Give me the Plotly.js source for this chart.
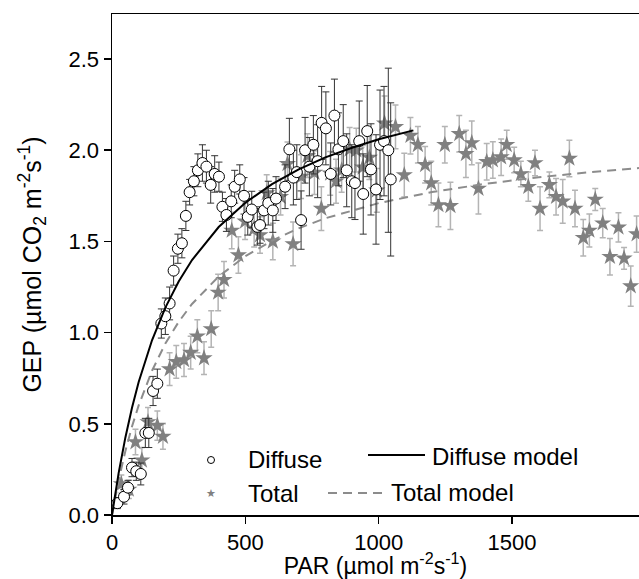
<!DOCTYPE html>
<html>
<head>
<meta charset="utf-8">
<script src="https://cdn.plot.ly/plotly-3.0.1.min.js"></script>
<style>html,body{margin:0;padding:0;background:#fff;}#chart{width:639px;height:579px;}</style>
</head>
<body>
<div id="chart"></div>
<script>
// Diffuse observations (PAR, GEP, error)
const diffuseX = [20,45,60,75,91,108,125,138,154,170,185,200,216,231,247,262,277,291,307,322,339,354,370,385,401,414,429,447,460,479,495,509,524,545,555,570,586,603,615,649,665,680,693,709,724,740,755,771,786,802,820,834,849,867,880,899,911,927,942,957,971,990,1005,1020,1036,1045];
const diffuseY = [0.065,0.10,0.15,0.26,0.24,0.225,0.45,0.45,0.68,0.72,1.05,1.09,1.16,1.34,1.46,1.49,1.64,1.77,1.83,1.89,1.93,1.91,1.81,1.87,1.855,1.69,1.645,1.72,1.80,1.84,1.75,1.635,1.675,1.58,1.59,1.67,1.71,1.67,1.735,1.80,2.005,1.85,1.88,1.617,2.00,1.91,2.03,1.94,2.15,2.12,1.87,2.19,2.005,2.05,1.89,1.83,1.82,2.05,1.76,2.105,1.895,1.785,2.03,2.05,2.0,1.84];
const diffuseErr = [0.03,0.04,0.04,0.05,0.05,0.06,0.08,0.08,0.08,0.08,0.08,0.1,0.09,0.08,0.08,0.08,0.08,0.07,0.08,0.09,0.1,0.09,0.1,0.1,0.08,0.08,0.09,0.09,0.09,0.08,0.1,0.1,0.1,0.1,0.1,0.1,0.12,0.12,0.12,0.12,0.17,0.15,0.15,0.16,0.18,0.16,0.16,0.2,0.2,0.2,0.17,0.2,0.2,0.2,0.2,0.2,0.2,0.22,0.22,0.25,0.25,0.3,0.3,0.3,0.45,0.42];

// Total observations (PAR, GEP, error)
const totalX = [35,63,88,112,135,170,191,216,241,270,295,320,345,372,398,420,449,474,499,533,555,580,603,632,658,679,709,733,759,785,818,840,861,891,916,940,965,993,1022,1063,1096,1119,1147,1174,1197,1224,1248,1269,1302,1327,1349,1374,1405,1428,1459,1480,1508,1533,1561,1586,1605,1640,1665,1690,1715,1736,1767,1790,1812,1840,1867,1899,1920,1945,1967];
const totalY = [0.17,0.14,0.40,0.30,0.51,0.49,0.43,0.80,0.84,0.85,0.89,0.98,0.86,1.02,1.22,1.29,1.56,1.425,1.61,1.57,1.535,1.765,1.50,1.745,1.925,1.486,1.855,1.97,1.877,1.68,1.873,1.83,1.89,2.005,2.00,1.906,1.96,1.78,2.147,2.128,1.864,2.08,2.03,1.92,1.82,1.70,2.03,1.695,2.09,1.98,2.04,1.79,1.937,1.946,1.962,2.03,1.946,1.87,1.80,1.93,1.68,1.81,1.745,1.72,1.955,1.68,1.52,1.56,1.73,1.60,1.416,1.577,1.407,1.255,1.54];
const totalErr = [0.05,0.05,0.07,0.07,0.08,0.08,0.07,0.09,0.09,0.09,0.09,0.09,0.09,0.1,0.1,0.1,0.1,0.1,0.1,0.1,0.1,0.1,0.1,0.1,0.12,0.12,0.12,0.12,0.12,0.12,0.12,0.12,0.12,0.12,0.12,0.12,0.12,0.12,0.15,0.12,0.12,0.1,0.1,0.1,0.12,0.12,0.1,0.13,0.1,0.13,0.12,0.14,0.1,0.1,0.1,0.08,0.07,0.07,0.08,0.07,0.12,0.07,0.1,0.12,0.1,0.1,0.1,0.09,0.06,0.08,0.1,0.08,0.06,0.11,0.1];

// Model curves
const diffuseModelX = [0,10,25,50,75,100,150,200,250,300,400,500,600,700,800,900,1000,1130];
const diffuseModelY = [0,0.098,0.231,0.424,0.588,0.729,0.958,1.137,1.280,1.398,1.579,1.712,1.814,1.895,1.961,2.014,2.060,2.109];
const totalModelX = [0,25,50,75,100,150,200,250,300,400,500,600,700,800,1000,1200,1400,1600,1800,1976];
const totalModelY = [0,0.190,0.350,0.485,0.601,0.791,0.940,1.059,1.157,1.308,1.419,1.504,1.572,1.627,1.710,1.771,1.816,1.852,1.881,1.902];

// Axis ticks
const xTicks = [0,500,1000,1500];
const yTicks = [0.0,0.5,1.0,1.5,2.0,2.5];

// Legend labels
const legendLabels = ['Diffuse','Total','Diffuse model','Total model'];

const FONT = 'Liberation Sans, Arial, sans-serif';

const traces = [
  {
    x: totalX, y: totalY, type: 'scatter', mode: 'markers', name: 'Total',
    marker: {symbol: 'star', size: 13, color: '#808080', line: {width: 0}},
    error_y: {type: 'data', array: totalErr, visible: true, color: '#b4b4b4', thickness: 1.5, width: 3}
  },
  {
    x: totalModelX, y: totalModelY, type: 'scatter', mode: 'lines', name: 'Total model',
    line: {color: '#8c8c8c', width: 2, dash: '9px,6px'}
  },
  {
    x: diffuseX, y: diffuseY, type: 'scatter', mode: 'markers', name: 'Diffuse',
    marker: {symbol: 'circle', size: 11, color: '#ffffff', line: {width: 1, color: '#000000'}},
    error_y: {type: 'data', array: diffuseErr, visible: true, color: '#333333', thickness: 1, width: 3.5}
  },
  {
    x: diffuseModelX, y: diffuseModelY, type: 'scatter', mode: 'lines', name: 'Diffuse model',
    line: {color: '#000000', width: 2}
  }
];

// helpers for legend position in paper coords
const L = 112, T = 14, W = 527, H = 501;
const px = v => (v - L) / W;
const py = v => (T + H - v) / H;

const layout = {
  width: 639, height: 579,
  margin: {l: L, r: 0, t: T, b: 579 - T - H, pad: 0},
  paper_bgcolor: '#ffffff', plot_bgcolor: '#ffffff',
  showlegend: false,
  font: {family: FONT, size: 22, color: '#000'},
  xaxis: {
    range: [0, 1976], tickvals: xTicks, ticktext: xTicks.map(String),
    showgrid: false, zeroline: false, showline: true, linecolor: '#000', linewidth: 1.5,
    mirror: true, ticks: 'outside', ticklen: 7, tickwidth: 1.5, tickcolor: '#000',
    tickfont: {family: FONT, size: 22},
    title: {text: 'PAR (µmol m<sup>-2</sup>s<sup>-1</sup>)', font: {family: FONT, size: 23}, standoff: 2}
  },
  yaxis: {
    range: [0, 2.747], tickvals: yTicks, ticktext: yTicks.map(v => v.toFixed(1)),
    showgrid: false, zeroline: false, showline: true, linecolor: '#000', linewidth: 1.5,
    mirror: false, ticks: 'outside', ticklen: 7, tickwidth: 1.5, tickcolor: '#000',
    tickfont: {family: FONT, size: 22},
    title: {text: 'GEP (µmol CO<sub>2</sub> m<sup>-2</sup>s<sup>-1</sup>)', font: {family: FONT, size: 25}, standoff: 20}
  },
  shapes: [
    {type: 'circle', xref: 'paper', yref: 'paper', xsizemode: 'pixel', ysizemode: 'pixel',
     xanchor: px(211), yanchor: py(460), x0: -3.5, x1: 3.5, y0: -3.5, y1: 3.5,
     line: {color: '#000', width: 1}, fillcolor: '#fff'},
    {type: 'line', xref: 'paper', yref: 'paper', x0: px(368), x1: px(425), y0: py(455), y1: py(455),
     line: {color: '#000', width: 2}},
    {type: 'line', xref: 'paper', yref: 'paper', x0: px(328), x1: px(385), y0: py(493), y1: py(493),
     line: {color: '#8c8c8c', width: 2, dash: '9px,6px'}}
  ],
  annotations: [
    {xref: 'paper', yref: 'paper', x: px(211), y: py(493), text: '★', showarrow: false,
     xanchor: 'center', yanchor: 'middle', font: {family: 'DejaVu Sans', size: 11, color: '#808080'}},
    {xref: 'paper', yref: 'paper', x: px(246), y: py(459), text: legendLabels[0], showarrow: false,
     xanchor: 'left', yanchor: 'middle', font: {family: FONT, size: 24}},
    {xref: 'paper', yref: 'paper', x: px(246), y: py(493), text: legendLabels[1], showarrow: false,
     xanchor: 'left', yanchor: 'middle', font: {family: FONT, size: 24}},
    {xref: 'paper', yref: 'paper', x: px(430), y: py(456), text: legendLabels[2], showarrow: false,
     xanchor: 'left', yanchor: 'middle', font: {family: FONT, size: 24}},
    {xref: 'paper', yref: 'paper', x: px(389), y: py(492), text: legendLabels[3], showarrow: false,
     xanchor: 'left', yanchor: 'middle', font: {family: FONT, size: 24}}
  ]
};

Plotly.newPlot('chart', traces, layout, {staticPlot: true, displayModeBar: false});
</script>
</body>
</html>
